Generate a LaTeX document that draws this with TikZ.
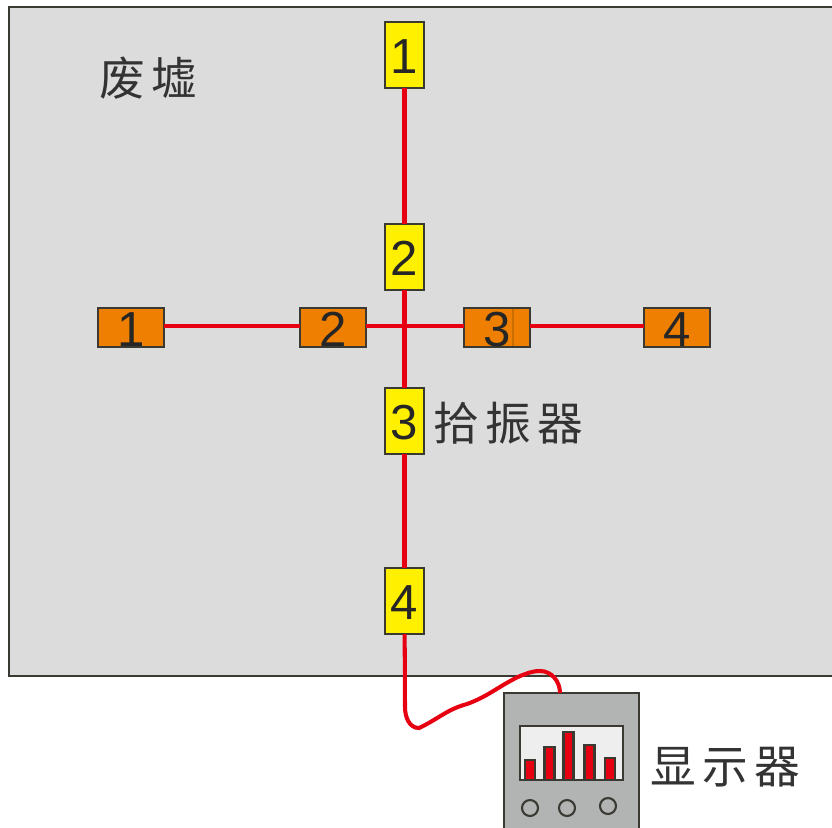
\documentclass[tikz,border=0pt]{standalone}
\usepackage{fontspec}
\setmainfont{Liberation Sans}
\newfontfamily\cjk[LetterSpace=14]{Noto Sans CJK SC}
\definecolor{ground gray}{HTML}{DCDCDC}
\definecolor{edge gray}{HTML}{3A3A32}
\definecolor{pickup yellow}{HTML}{FFF000}
\definecolor{pickup orange}{HTML}{EE7F00}
\definecolor{wire red}{HTML}{E60012}
\definecolor{case gray}{HTML}{B2B4B4}
\definecolor{screen gray}{HTML}{EEEEEF}
\tikzstyle{pickup}=[draw=edge gray, semithick, inner sep=0pt, outer sep=0pt, font=\fontsize{14}{14}\selectfont, text=black!85]
\tikzstyle{vertical pickup}=[pickup, fill=pickup yellow, minimum width=0.39cm, minimum height=0.66cm, text height=10.8pt]
\tikzstyle{horizontal pickup}=[pickup, fill=pickup orange, minimum width=0.66cm, minimum height=0.39cm, text height=10.9pt]
\tikzstyle{wire}=[wire red, line width=1.15pt]
\tikzstyle{label}=[inner sep=0pt, text=black!80, font=\cjk\fontsize{13}{13}\selectfont]
\tikzstyle{bar}=[draw=edge gray, fill=wire red, semithick]
\tikzstyle{knob}=[draw=edge gray, semithick]

\begin{document}
\begin{tikzpicture}
      \clip (0, 0) rectangle (8.32, 8.27);
      \useasboundingbox (0, 0) rectangle (8.32, 8.27);
      \fill[white] (0, 0) rectangle (8.32, 8.27);
      \draw[edge gray, fill=ground gray, semithick] (0.09, 1.51) rectangle (8.6, 8.20);

      \node[vertical pickup] (v1) at (4.045, 7.72) {1};
      \node[vertical pickup] (v2) at (4.045, 5.70) {2};
      \node[vertical pickup] (v3) at (4.045, 4.06) {3};
      \node[vertical pickup] (v4) at (4.045, 2.26) {4};
      \node[horizontal pickup] (h1) at (1.31, 4.995) {1};
      \node[horizontal pickup] (h2) at (3.33, 4.995) {2};
      \node[horizontal pickup] (h3) at (4.97, 4.995) {3};
      \node[horizontal pickup] (h4) at (6.77, 4.995) {4};
      \draw[pickup orange!85!black, thin] (5.13, 4.81) -- (5.13, 5.18);

      \node[label] (ruins) at (1.48, 7.49) {废墟};
      \node[label] (pickups) at (5.08, 4.04) {拾振器};
      \node[label] (display) at (7.25, 0.60) {显示器};

      \node[draw=edge gray, fill=case gray, semithick, minimum width=1.35cm, minimum height=1.54cm, inner sep=0pt] (monitor) at (5.715, 0.57) {};
      \node[draw=edge gray, fill=screen gray, semithick, minimum width=1.03cm, minimum height=0.54cm, inner sep=0pt] (screen) at (5.715, 0.74) {};
      \coordinate (plug) at (5.60, 1.34);

      \foreach \x/\h in {5.30/0.67, 5.495/0.80, 5.685/0.95, 5.895/0.82, 6.10/0.69}
        \draw[bar] (\x - 0.05, 0.47) rectangle (\x + 0.05, \h);
      \foreach \x/\y in {5.30/0.19, 5.67/0.19, 6.08/0.21}
        \draw[knob] (\x, \y) circle (0.08);

      \draw[wire] (v1) -- (v2);
      \draw[wire] (v2) -- (v3);
      \draw[wire] (v3) -- (v4);
      \draw[wire] ([yshift=0.5pt]h1.east) -- ([yshift=0.5pt]h2.west);
      \draw[wire] ([yshift=0.5pt]h2.east) -- ([yshift=0.5pt]h3.west);
      \draw[wire] ([yshift=0.5pt]h3.east) -- ([yshift=0.5pt]h4.west);
      \draw[wire] (v4)
        to (4.05, 1.20)
        to[out=270, in=180] (4.19, 0.99)
        to[out=25, in=195] (4.67, 1.23)
        to[out=20, in=205] (5.20, 1.51)
        to[out=20, in=180] (5.40, 1.56)
        to[out=0, in=90] (plug);
    \end{tikzpicture}
\end{document}
